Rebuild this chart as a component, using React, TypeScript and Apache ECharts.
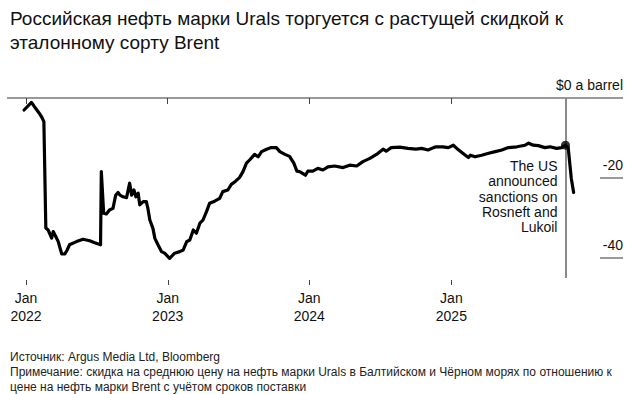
import React, { useEffect, useRef } from 'react';
import * as echarts from 'echarts';

const TITLE = 'Российская нефть марки Urals торгуется с растущей скидкой к\nэталонному сорту Brent';
const SOURCE = 'Источник: Argus Media Ltd, Bloomberg';
const NOTE =
  'Примечание: скидка на среднюю цену на нефть марки Urals в Балтийском и Чёрном морях по отношению к\nцене на нефть марки Brent с учётом сроков поставки';

const DATES = [
  '2021-12-27', '2022-01-15', '2022-01-23', '2022-02-04', '2022-02-10', '2022-02-16', '2022-02-21', '2022-02-27',
  '2022-03-08', '2022-03-12', '2022-03-19', '2022-03-25', '2022-04-03', '2022-04-11', '2022-04-17', '2022-04-23',
  '2022-05-11', '2022-05-28', '2022-06-14', '2022-06-27', '2022-07-12', '2022-07-14', '2022-07-20', '2022-07-27',
  '2022-08-04', '2022-08-13', '2022-08-20', '2022-08-26', '2022-08-31', '2022-09-08', '2022-09-17', '2022-09-25',
  '2022-09-30', '2022-10-06', '2022-10-11', '2022-10-17', '2022-10-21', '2022-10-30', '2022-11-07', '2022-11-11',
  '2022-11-16', '2022-11-24', '2022-11-29', '2022-12-07', '2022-12-16', '2022-12-24', '2023-01-06', '2023-01-19',
  '2023-02-01', '2023-02-10', '2023-02-19', '2023-02-27', '2023-03-08', '2023-03-16', '2023-03-25', '2023-04-02',
  '2023-04-11', '2023-04-19', '2023-05-02', '2023-05-15', '2023-05-23', '2023-06-05', '2023-06-14', '2023-06-25',
  '2023-07-05', '2023-07-14', '2023-07-23', '2023-07-31', '2023-08-13', '2023-08-22', '2023-08-31', '2023-09-13',
  '2023-09-25', '2023-10-08', '2023-10-17', '2023-10-30', '2023-11-11', '2023-11-22', '2023-11-30', '2023-12-07',
  '2023-12-22', '2023-12-28', '2024-01-10', '2024-01-23', '2024-02-05', '2024-02-18', '2024-03-06', '2024-03-28',
  '2024-04-14', '2024-05-02', '2024-05-18', '2024-06-05', '2024-06-22', '2024-07-09', '2024-07-17', '2024-07-30',
  '2024-08-21', '2024-09-11', '2024-10-02', '2024-10-16', '2024-11-02', '2024-11-16', '2024-11-23', '2024-12-10',
  '2024-12-24', '2025-01-06', '2025-01-15', '2025-01-28', '2025-02-06', '2025-02-14', '2025-02-19', '2025-03-03',
  '2025-03-20', '2025-04-07', '2025-04-24', '2025-05-11', '2025-05-28', '2025-06-19', '2025-07-10', '2025-07-19',
  '2025-07-31', '2025-08-13', '2025-08-30', '2025-09-12', '2025-09-29', '2025-10-12', '2025-10-21', '2025-10-29',
  '2025-11-06', '2025-11-12',
];

const DISCOUNT = [
  -3.0, -1.1, -2.2, -3.8, -4.7, -5.9, -32.5, -33.0,
  -35.0, -33.4, -34.7, -35.9, -39.0, -39.0, -38.0, -36.7,
  -35.9, -35.3, -35.7, -36.2, -36.7, -18.4, -28.8, -29.0,
  -28.0, -27.6, -24.3, -23.6, -24.3, -24.7, -24.9, -21.3,
  -24.3, -23.0, -24.7, -23.8, -26.7, -25.9, -25.9, -27.6,
  -30.5, -32.6, -35.1, -36.7, -38.4, -38.8, -40.1, -38.8,
  -38.4, -38.0, -35.9, -35.5, -33.0, -33.8, -31.3, -30.5,
  -28.4, -26.3, -25.8, -25.1, -23.4, -23.0, -21.6, -20.8,
  -19.9, -18.4, -16.3, -15.5, -14.1, -14.7, -13.4, -12.8,
  -12.4, -12.4, -13.4, -14.1, -14.6, -16.3, -18.3, -18.4,
  -19.3, -18.3, -18.3, -17.6, -18.0, -17.2, -17.0, -17.4,
  -16.8, -17.0, -15.9, -15.1, -14.1, -12.8, -13.3, -12.4,
  -12.3, -12.6, -12.8, -12.6, -13.0, -12.4, -12.2, -12.2,
  -12.4, -11.8, -12.6, -13.6, -14.3, -14.9, -14.3, -14.7,
  -14.3, -13.8, -13.4, -13.0, -12.4, -12.2, -11.8, -11.3,
  -11.8, -11.9, -12.4, -12.2, -12.6, -12.4, -11.8, -12.4,
  -20.1, -23.6,
];

const YEAR_TICKS = ['2022-01-01', '2023-01-01', '2024-01-01', '2025-01-01'];
const X_MIN = '2021-12-01';
const X_MAX = '2025-12-01';
const Y_LABELS = [0, -20, -40];
const SANCTION_DATE = '2025-10-22';
const SANCTION_VALUE = -11.8;
const ANNOTATION = 'The US\nannounced\nsanctions on\nRosneft and\nLukoil';
const ANNOTATION_VALUE = -17;

export default function App() {
  const ref = useRef<HTMLDivElement>(null);

  useEffect(() => {
    const chart = echarts.init(ref.current!, null, { renderer: 'svg' });
    const font = '"Liberation Sans", Arial, Helvetica, sans-serif';
    const ts = (s: string) => Date.UTC(+s.slice(0, 4), +s.slice(5, 7) - 1, +s.slice(8, 10));
    const tickValues = YEAR_TICKS.map(ts);

    chart.setOption({
      animation: false,
      textStyle: { fontFamily: font },
      title: [
        {
          text: TITLE,
          left: 5,
          top: 1,
          textStyle: { fontFamily: font, fontSize: 19, lineHeight: 24, fontWeight: 'normal', color: '#111' },
        },
        {
          text: SOURCE + '\n' + NOTE,
          left: 5,
          top: 344,
          textStyle: { fontFamily: font, fontSize: 12, lineHeight: 15, fontWeight: 'normal', color: '#222' },
        },
      ],
      grid: { left: 14, right: 54, top: 98, bottom: 116 },
      xAxis: {
        type: 'value',
        min: ts(X_MIN),
        max: ts(X_MAX),
        axisLine: { show: true, lineStyle: { color: 'rgba(0,0,0,0)', width: 0 } },
        axisTick: { show: true, length: 6, lineStyle: { color: '#444', width: 1 }, customValues: tickValues },
        axisLabel: {
          customValues: tickValues,
          formatter: (v: number) => 'Jan\n' + new Date(v).getUTCFullYear(),
          fontFamily: font,
          fontSize: 14,
          lineHeight: 18,
          color: '#111',
          margin: 11,
        },
        splitLine: { show: false },
      },
      yAxis: {
        type: 'value',
        position: 'right',
        min: -45,
        max: 0,
        axisLine: { show: false },
        axisTick: { show: false },
        splitLine: { show: false },
        axisLabel: {
          customValues: Y_LABELS,
          formatter: (v: number) => (v === 0 ? '$0 a barrel' : String(v)),
          align: 'right',
          verticalAlign: 'bottom',
          padding: [0, 0, 6, 0],
          margin: 42,
          fontFamily: font,
          fontSize: 14,
          color: '#111',
        },
      },
      series: [
        {
          type: 'line',
          data: DATES.map((d, i) => [ts(d), DISCOUNT[i]]),
          showSymbol: false,
          symbol: 'none',
          lineStyle: { color: '#000', width: 3.2, join: 'round', cap: 'round' },
          z: 3,
          markLine: {
            silent: true,
            symbol: ['none', 'none'],
            label: { show: false },
            lineStyle: { color: '#8a8a8a', width: 2, type: 'solid' },
            data: [{ xAxis: ts(SANCTION_DATE) }],
            z: 2,
          },
        },
        {
          type: 'scatter',
          data: [[ts(SANCTION_DATE), SANCTION_VALUE]],
          symbol: 'circle',
          symbolSize: 9,
          itemStyle: { color: '#000' },
          z: 5,
        },
      ],
    });

    const yPix = (v: number) => chart.convertToPixel({ yAxisIndex: 0 }, v) as number;
    const xPix = (v: number) => chart.convertToPixel({ xAxisIndex: 0 }, v) as number;
    const ann = chart.convertToPixel({ gridIndex: 0 }, [ts(SANCTION_DATE), ANNOTATION_VALUE]) as number[];
    const y0 = yPix(0);
    const yBottom = yPix(-45);
    const graphics: any[] = [
      {
        type: 'line',
        shape: { x1: 7, y1: y0, x2: 623, y2: y0 },
        style: { stroke: '#333', lineWidth: 1 },
        z: 1,
      },
    ];
    Y_LABELS.filter((v) => v !== 0).forEach((v) => {
      const y = yPix(v);
      graphics.push({
        type: 'line',
        shape: { x1: 600, y1: y, x2: 623, y2: y },
        style: { stroke: '#333', lineWidth: 1 },
      });
    });
    tickValues.forEach((t) => {
      const x = Math.round(xPix(t)) + 0.5;
      graphics.push({
        type: 'line',
        shape: { x1: x, y1: yBottom + 2, x2: x, y2: yBottom + 7 },
        style: { stroke: '#444', lineWidth: 1 },
      });
    });
    graphics.push({
      type: 'text',
      x: ann[0] - 8,
      y: ann[1] - 7.7,
      style: {
        text: ANNOTATION,
        fontFamily: font,
        fontSize: 14,
        lineHeight: 15.3,
        fill: '#111',
        align: 'right',
        verticalAlign: 'top',
      },
      z: 10,
    });
    chart.setOption({ graphic: graphics });

    return () => chart.dispose();
  }, []);

  return (
    <div
      ref={ref}
      style={{ position: 'fixed', left: 0, top: 0, width: 635, height: 394, background: '#fff' }}
    />
  );
}
